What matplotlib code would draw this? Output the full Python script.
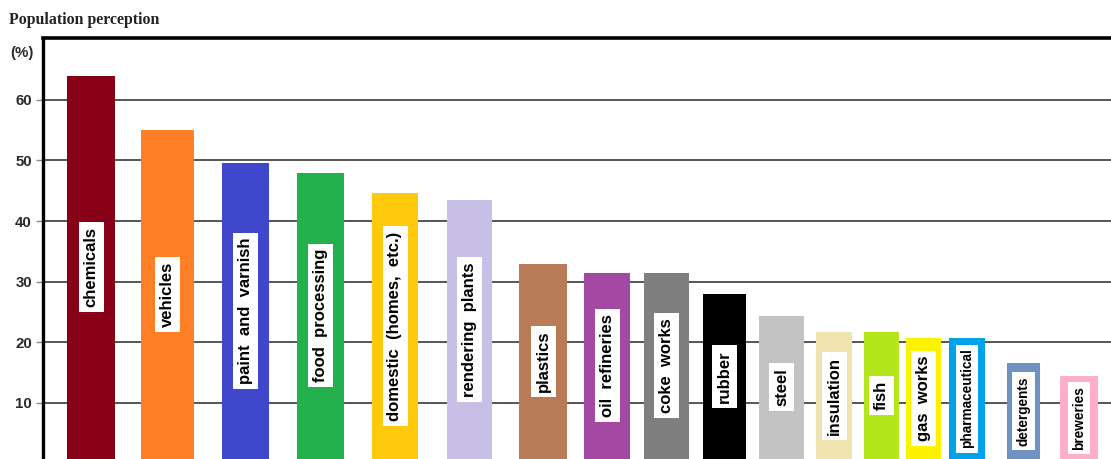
import matplotlib
matplotlib.use("Agg")
import matplotlib.pyplot as plt
import numpy as np

# Share of the population perceiving odour from each source (%)
sources = ["chemicals", "vehicles", "paint  and  varnish", "food  processing",
           "domestic  (homes,  etc.)", "rendering  plants", "plastics",
           "oil  refineries", "coke  works", "rubber", "steel", "insulation",
           "fish", "gas  works", "pharmaceutical", "detergents", "breweries"]
percent = [64, 55, 49.6, 48, 44.6, 43.5, 33, 31.5, 31.5, 28, 24.4, 21.7,
           21.7, 20.7, 20.7, 16.6, 14.4]
colors = ["#880015", "#FF7F27", "#3F48CC", "#22B14C", "#FFC90E", "#C8BFE7",
          "#B97A57", "#A349A4", "#7F7F7F", "#000000", "#C3C3C3", "#EFE4B0",
          "#B5E61D", "#FFF200", "#00A2E8", "#7092BE", "#FFAEC9"]
yticks = [10, 20, 30, 40, 50, 60]

# bar layout: widths and the gap before each bar (axis units)
bar_widths = [48, 53, 47, 47, 46, 45, 48, 46, 45, 43, 45, 36, 35, 35, 36, 33, 38]
gaps = [24, 26, 28, 28, 28, 29, 27, 17, 14, 14, 13, 12, 12, 7, 8, 22, 20]
label_sizes = [12] * 14 + [9.8, 9.8, 9.8]

lefts = np.cumsum(gaps) + np.concatenate([[0], np.cumsum(bar_widths)[:-1]])
centers = lefts + np.array(bar_widths) / 2

fig = plt.figure(figsize=(11.11, 4.59), dpi=100)
ax = fig.add_axes([43 / 1111, 0, 1 - 43 / 1111, 1 - 38 / 459])

y0, y1 = 0.76, 70.2
ax.set_ylim(y0, y1)
ax.set_xlim(0, 1068)

ax.bar(centers, percent, width=bar_widths, color=colors, zorder=2)

for x, v, name, fs in zip(centers, percent, sources, label_sizes):
    ax.text(x, (v + y0) / 2, name, rotation=90, ha="center", va="center",
            fontsize=fs, fontweight="bold", family="Liberation Sans",
            color="black", zorder=3,
            bbox=dict(boxstyle="square,pad=0.3", fc="white", ec="none"))

ax.set_yticks(yticks)
ax.set_yticklabels([str(t) for t in yticks], fontsize=10.8, fontweight="bold",
                   family="Liberation Sans", color="#2a2a2a")
ax.tick_params(axis="y", length=5, width=1, color="#888888", pad=3)
ax.set_xticks([])
ax.yaxis.grid(True, color="#555555", linewidth=1.4, zorder=0)
ax.set_axisbelow(True)

ax.spines["left"].set_linewidth(2.4)
ax.spines["left"].set_color("black")
ax.spines["top"].set_linewidth(2.6)
ax.spines["top"].set_color("black")
ax.spines["right"].set_visible(False)
ax.spines["bottom"].set_visible(False)

fig.text(9 / 1111, 1 - 20 / 459, "Population perception", ha="left",
         va="center", fontsize=11.4, fontweight="bold",
         family="Liberation Serif", color="#222222")
fig.text(22 / 1111, 1 - 53 / 459, "(%)", ha="center", va="center",
         fontsize=10.8, fontweight="bold", family="Liberation Sans",
         color="#2a2a2a")

fig.savefig("out.png", dpi=100)
